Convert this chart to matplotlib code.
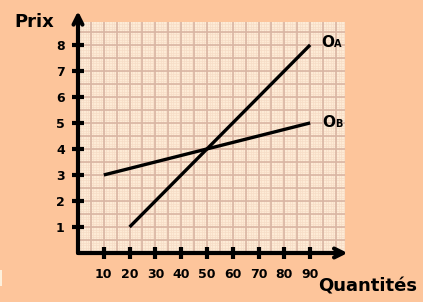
import numpy as np
import matplotlib.pyplot as plt
from matplotlib.patches import Rectangle

# données
offre_a_x = [20, 90]
offre_a_y = [1, 8]
offre_b_x = [10, 90]
offre_b_y = [3, 5]
xticks = [10, 20, 30, 40, 50, 60, 70, 80, 90]
yticks = [1, 2, 3, 4, 5, 6, 7, 8]

bg = '#fdc59b'
paper = '#fdebd6'

fig = plt.figure(figsize=(4.23, 3.02), dpi=100, facecolor=bg)
ax = fig.add_axes([78/423, 1 - 253/302, 267/423, 231/302])
ax.set_facecolor(paper)
ax.set_xlim(0, 103.5)
ax.set_ylim(0, 8.88)

# quadrillage fin puis principal
for xv in np.arange(1, 104, 1):
    ax.axvline(xv, color='#f6dcc6', lw=0.5, zorder=0)
for yv in np.arange(0.1, 8.9, 0.1):
    ax.axhline(yv, color='#f6dcc6', lw=0.5, zorder=0)
for xv in np.arange(5, 104, 5):
    ax.axvline(xv, color='#d9b5a3', lw=1.2, zorder=1)
for yv in np.arange(0.5, 8.9, 0.5):
    ax.axhline(yv, color='#d9b5a3', lw=1.2, zorder=1)

for s in ax.spines.values():
    s.set_visible(False)

ax.set_xticks(xticks)
ax.set_yticks(yticks)
ax.tick_params(direction='inout', length=9, width=3, color='black', pad=5)
for lab in ax.get_xticklabels() + ax.get_yticklabels():
    lab.set_fontweight('bold')
    lab.set_fontsize(9)
    lab.set_family('DejaVu Sans')
ax.tick_params(axis='x', pad=6)

# axes avec flèches
ax.annotate('', xy=(0, 9.3), xytext=(0, 0), xycoords='data', annotation_clip=False,
            arrowprops=dict(arrowstyle='->', lw=3, color='black', mutation_scale=16, shrinkA=0, shrinkB=0))
ax.annotate('', xy=(104.5, 0), xytext=(0, 0), xycoords='data', annotation_clip=False,
            arrowprops=dict(arrowstyle='->', lw=3, color='black', mutation_scale=16, shrinkA=0, shrinkB=0))

ax.plot(offre_a_x, offre_a_y, color='black', lw=2.4, solid_capstyle='butt', zorder=5)
ax.plot(offre_b_x, offre_b_y, color='black', lw=2.4, solid_capstyle='butt', zorder=5)

font = dict(family='DejaVu Sans', fontweight='bold', color='black')
ax.text(94.3, 8.1, 'O', fontsize=11, va='center', ha='left', clip_on=False, **font)
ax.text(99.4, 8.04, 'A', fontsize=7, va='center', ha='left', clip_on=False, **font)
ax.text(94.7, 5.0, 'O', fontsize=11, va='center', ha='left', clip_on=False, **font)
ax.text(99.8, 4.94, 'B', fontsize=7, va='center', ha='left', clip_on=False, **font)

fig.text(14/423, 1 - 22/302, 'Prix', fontsize=13, va='center', ha='left', **font)
fig.text(318/423, 1 - 286/302, 'Quantités', fontsize=13, va='center', ha='left', **font)

# petite marque claire au bord gauche
fig.patches.append(Rectangle((0, 1 - 286/302), 2/423, 16/302, transform=fig.transFigure,
                             facecolor='#fdf0dc', edgecolor='none'))

fig.savefig('out.png', dpi=100, facecolor=bg)
